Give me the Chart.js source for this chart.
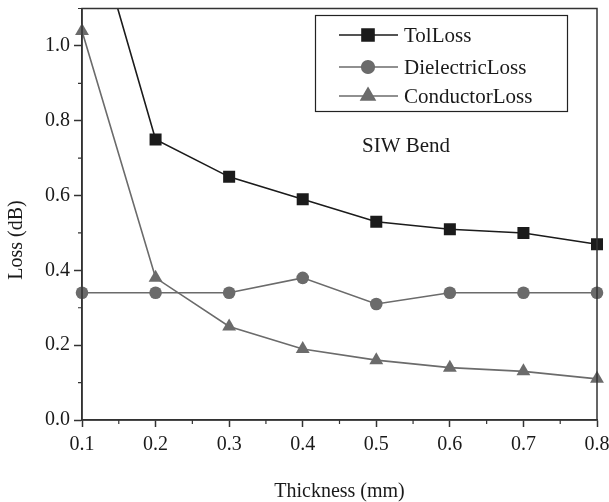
<!DOCTYPE html>
<html>
<head>
<meta charset="utf-8">
<script src="https://cdn.jsdelivr.net/npm/chart.js@4.4.1/dist/chart.umd.min.js"></script>
<style>
  html, body { margin: 0; padding: 0; background: #fff; }
  #wrap { width: 609px; height: 502px; }
</style>
</head>
<body>
<div id="wrap"><canvas id="myChart" width="609" height="502"></canvas></div>
<script>
  // data
  var thickness = [0.1, 0.2, 0.3, 0.4, 0.5, 0.6, 0.7, 0.8];
  var tolLoss = [1.43, 0.75, 0.65, 0.59, 0.53, 0.51, 0.5, 0.47];
  var dielectricLoss = [0.34, 0.34, 0.34, 0.38, 0.31, 0.34, 0.34, 0.34];
  var conductorLoss = [1.04, 0.38, 0.25, 0.19, 0.16, 0.14, 0.13, 0.11];
  var xTicks = [0.1, 0.2, 0.3, 0.4, 0.5, 0.6, 0.7, 0.8];
  var yTicks = [0.0, 0.2, 0.4, 0.6, 0.8, 1.0];

  var FONT = "'Liberation Serif', 'Times New Roman', serif";
  var BLACK = "#1b1b1b";
  var GRAY = "#6b6b6b";
  var AXIS = "#333333";

  function toPoints(values) {
    return values.map(function (v, i) {
      return { x: thickness[i], y: v };
    });
  }

  // frame, minor ticks, legend box, note, y title
  var decorPlugin = {
    id: "decor",
    afterDraw: function (chart) {
      var c = chart.ctx;
      var a = chart.chartArea;
      var xs = chart.scales.x;
      var ys = chart.scales.y;
      c.save();
      c.strokeStyle = AXIS;
      c.lineWidth = 1.5;
      c.strokeRect(a.left, a.top, a.right - a.left, a.bottom - a.top);

      // minor ticks
      c.lineWidth = 1.2;
      c.beginPath();
      for (var i = 0; i < xTicks.length - 1; i++) {
        var px = xs.getPixelForValue((xTicks[i] + xTicks[i + 1]) / 2);
        c.moveTo(px, a.bottom);
        c.lineTo(px, a.bottom + 4);
      }
      for (var j = 0; j < yTicks.length; j++) {
        var py = ys.getPixelForValue(yTicks[j] + 0.1);
        if (py < a.top) continue;
        c.moveTo(a.left, py);
        c.lineTo(a.left - 4, py);
      }
      c.stroke();

      // legend
      c.lineWidth = 1.2;
      c.strokeStyle = "#222";
      c.strokeRect(315.5, 15.5, 252, 96);
      var rows = [35, 67, 96];
      c.font = "21px " + FONT;
      c.textBaseline = "middle";
      c.textAlign = "left";
      chart.data.datasets.forEach(function (ds, k) {
        var y = rows[k];
        c.strokeStyle = ds.borderColor;
        c.lineWidth = ds.borderWidth;
        c.beginPath();
        c.moveTo(339, y);
        c.lineTo(398, y);
        c.stroke();
        Chart.helpers.drawPoint(c, {
          pointStyle: ds.pointStyle,
          radius: ds.pointRadius,
          borderWidth: 1
        }, 368, y);
        c.fillStyle = ds.backgroundColor;
        c.fill();
        c.fillStyle = "#1a1a1a";
        c.fillText(ds.label, 404, y + 1);
      });

      c.fillStyle = "#1a1a1a";
      c.fillText("SIW Bend", 362, 146);

      // y axis title
      c.font = "20px " + FONT;
      c.translate(17, 240);
      c.rotate(-Math.PI / 2);
      c.textAlign = "center";
      c.fillText("Loss (dB)", 0, 0);
      c.restore();
    }
  };

  var ctx = document.getElementById("myChart");
  var chart = new Chart(ctx, {
    type: "line",
    data: {
      datasets: [
        {
          label: "TolLoss",
          data: toPoints(tolLoss),
          borderColor: BLACK,
          backgroundColor: BLACK,
          borderWidth: 1.6,
          pointStyle: "rect",
          pointRadius: 8.5,
          pointBorderWidth: 0,
          clip: { left: 12, top: 0, right: 12, bottom: 12 }
        },
        {
          label: "DielectricLoss",
          data: toPoints(dielectricLoss),
          borderColor: GRAY,
          backgroundColor: GRAY,
          borderWidth: 1.6,
          pointStyle: "circle",
          pointRadius: 6.3,
          pointBorderWidth: 0,
          clip: { left: 12, top: 0, right: 12, bottom: 12 }
        },
        {
          label: "ConductorLoss",
          data: toPoints(conductorLoss),
          borderColor: GRAY,
          backgroundColor: GRAY,
          borderWidth: 1.6,
          pointStyle: "triangle",
          pointRadius: 8,
          pointBorderWidth: 0,
          clip: { left: 12, top: 0, right: 12, bottom: 12 }
        }
      ]
    },
    options: {
      responsive: false,
      animation: false,
      events: [],
      layout: { padding: { left: 0, right: 12, top: 5, bottom: 0 } },
      plugins: {
        legend: { display: false },
        tooltip: { enabled: false }
      },
      elements: { line: { tension: 0 } },
      scales: {
        x: {
          type: "linear",
          min: 0.1,
          max: 0.8,
          afterFit: function (s) {
            s.height = 82;
            s.paddingLeft = 0;
            s.paddingRight = 0;
          },
          afterBuildTicks: function (s) {
            s.ticks = xTicks.map(function (v) { return { value: v }; });
          },
          grid: { drawOnChartArea: false, drawTicks: true, tickLength: 7, tickColor: AXIS, tickWidth: 1.5 },
          border: { display: true, color: AXIS, width: 1.5 },
          ticks: {
            padding: 6,
            color: "#1a1a1a",
            font: { family: FONT, size: 20 },
            maxRotation: 0,
            callback: function (v) { return v.toFixed(1); }
          },
          title: {
            display: true,
            text: "Thickness (mm)",
            color: "#1a1a1a",
            font: { family: FONT, size: 20 },
            padding: { top: 0, bottom: -2 }
          }
        },
        y: {
          min: 0,
          max: 1.1,
          afterFit: function (s) {
            s.width = 82;
            s.paddingTop = 0;
            s.paddingBottom = 0;
          },
          afterBuildTicks: function (s) {
            s.ticks = yTicks.map(function (v) { return { value: v }; });
          },
          grid: { drawOnChartArea: false, drawTicks: true, tickLength: 8, tickColor: AXIS, tickWidth: 1.5 },
          border: { display: true, color: AXIS, width: 1.5 },
          ticks: {
            padding: 4,
            color: "#1a1a1a",
            font: { family: FONT, size: 20 },
            callback: function (v) { return v.toFixed(1); }
          }
        }
      }
    },
    plugins: [decorPlugin]
  });
</script>
</body>
</html>
